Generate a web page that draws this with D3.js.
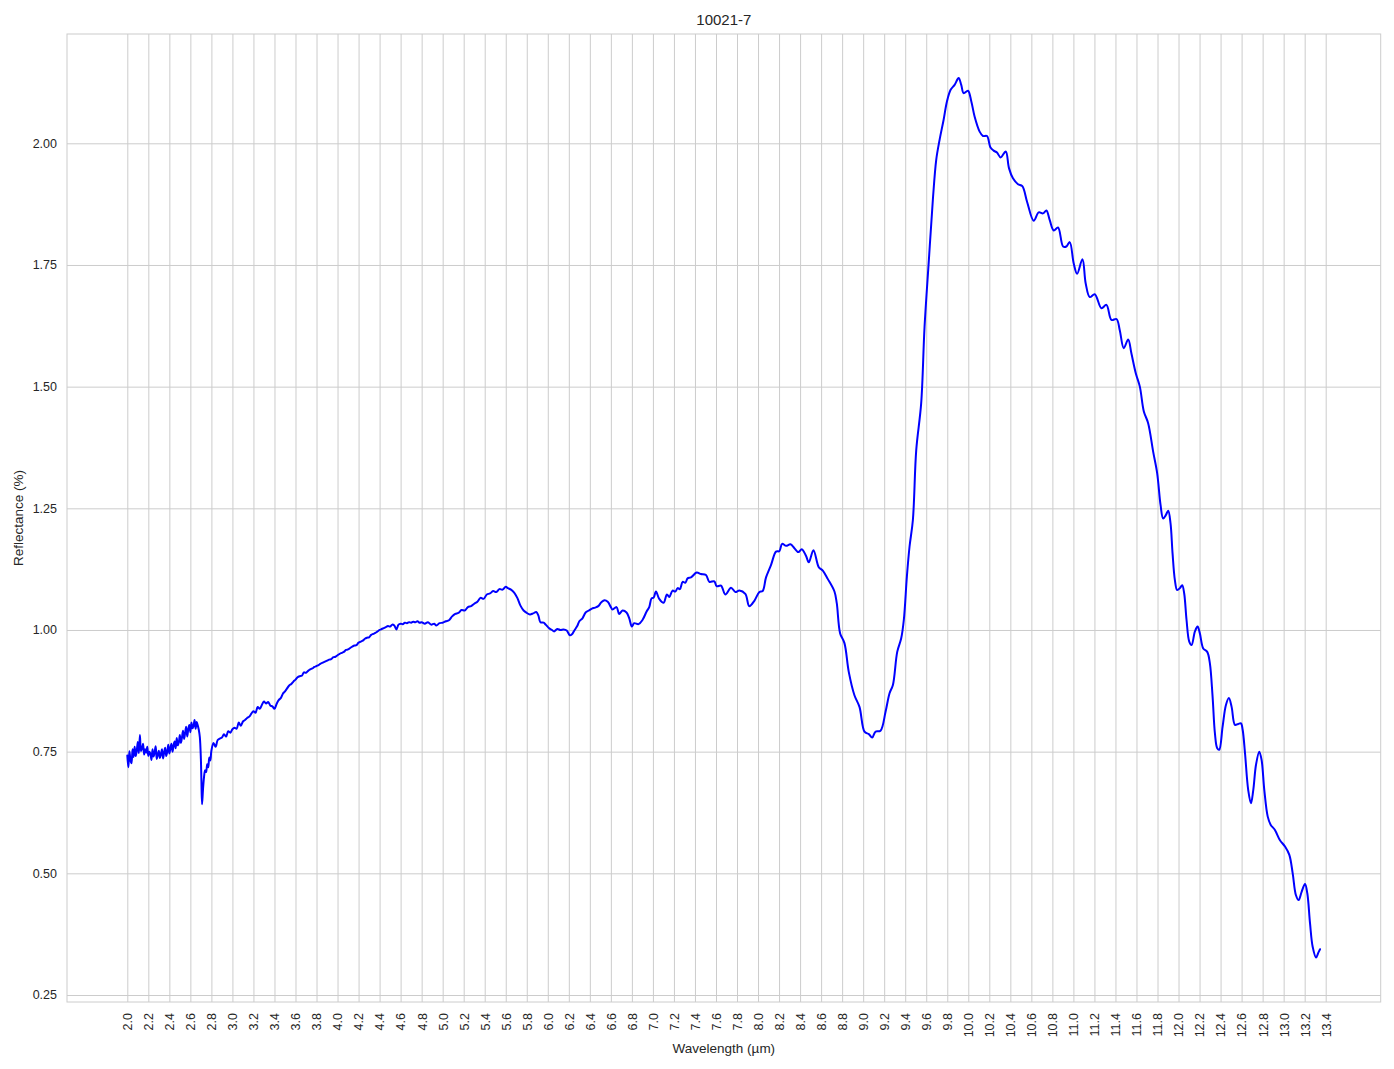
<!DOCTYPE html>
<html>
<head>
<meta charset="utf-8">
<script src="https://cdn.jsdelivr.net/npm/d3@7"></script>
<style>
  html, body { margin: 0; padding: 0; background: #ffffff; }
  svg { display: block; }
  text { font-family: "Liberation Sans", Arial, sans-serif; fill: #262626; }
</style>
</head>
<body>
<svg id="chart" width="1394" height="1069"></svg>
<script>
const title = "10021-7";
const xLabel = "Wavelength (µm)";
const yLabel = "Reflectance (%)";

const xTicks = [2.0,2.2,2.4,2.6,2.8,3.0,3.2,3.4,3.6,3.8,4.0,4.2,4.4,4.6,4.8,5.0,5.2,5.4,5.6,5.8,6.0,6.2,6.4,6.6,6.8,7.0,7.2,7.4,7.6,7.8,8.0,8.2,8.4,8.6,8.8,9.0,9.2,9.4,9.6,9.8,10.0,10.2,10.4,10.6,10.8,11.0,11.2,11.4,11.6,11.8,12.0,12.2,12.4,12.6,12.8,13.0,13.2,13.4];
const yTicks = [0.25,0.50,0.75,1.00,1.25,1.50,1.75,2.00];

// wavelength (µm)
const wavelength = [
2.00,2.01,2.02,2.03,2.04,2.05,2.06,2.07,2.08,2.09,
2.10,2.11,2.12,2.13,2.14,2.15,2.16,2.17,2.18,2.19,
2.20,2.21,2.22,2.23,2.24,2.25,2.26,2.27,2.28,2.29,
2.30,2.31,2.32,2.33,2.34,2.35,2.36,2.37,2.38,2.39,
2.40,2.41,2.42,2.43,2.44,2.45,2.46,2.47,2.48,2.49,
2.50,2.51,2.52,2.53,2.54,2.55,2.56,2.57,2.58,2.59,
2.60,2.61,2.62,2.63,2.64,2.65,2.66,2.67,2.68,2.69,
2.70,2.705,2.711,2.72,2.73,2.74,2.75,2.76,2.77,2.78,2.79,
2.80,2.82,2.84,2.86,2.88,2.90,2.92,2.94,2.96,2.98,
3.00,3.02,3.04,3.06,3.08,3.10,3.12,3.14,3.16,3.18,
3.20,3.22,3.24,3.26,3.28,3.30,3.32,3.34,3.36,3.38,
3.40,3.42,3.44,3.46,3.48,3.50,3.52,3.54,3.56,3.58,
3.60,3.62,3.64,3.66,3.68,3.70,3.72,3.74,3.76,3.78,
3.80,3.82,3.84,3.86,3.88,3.90,3.92,3.94,3.96,3.98,
4.00,4.02,4.04,4.06,4.08,4.10,4.12,4.14,4.16,4.18,
4.20,4.22,4.24,4.26,4.28,4.30,4.32,4.34,4.36,4.38,
4.40,4.42,4.44,4.46,4.48,4.50,4.52,4.54,4.56,4.58,
4.60,4.62,4.64,4.66,4.68,4.70,4.72,4.74,4.76,4.78,
4.80,4.83,4.86,4.89,4.92,4.94,4.97,5.00,5.03,5.06,
5.09,5.12,5.15,5.18,5.21,5.24,5.27,5.30,5.33,5.36,
5.39,5.42,5.45,5.48,5.51,5.54,5.57,5.60,5.62,5.65,
5.68,5.71,5.74,5.77,5.80,5.83,5.86,5.89,5.91,5.93,
5.96,5.98,6.01,6.04,6.06,6.09,6.12,6.15,6.18,6.21,
6.23,6.25,6.28,6.30,6.33,6.36,6.39,6.42,6.45,6.48,
6.51,6.54,6.57,6.60,6.616,6.654,6.679,6.711,6.749,6.775,
6.80,6.822,6.863,6.902,6.940,6.965,6.987,7.006,7.029,7.060,
7.102,7.133,7.156,7.187,7.213,7.235,7.257,7.283,7.308,7.330,
7.362,7.416,7.457,7.505,7.537,7.584,7.606,7.648,7.689,7.743,
7.784,7.822,7.879,7.917,7.965,8.013,8.044,8.076,8.124,8.171,
8.203,8.229,8.267,8.308,8.346,8.384,8.416,8.457,8.483,8.527,
8.578,8.616,8.663,8.727,8.749,8.781,8.822,8.863,8.917,8.965,
9.013,9.054,9.086,9.117,9.165,9.213,9.251,9.283,9.324,9.362,
9.387,9.416,9.441,9.473,9.505,9.552,9.584,9.625,9.663,9.695,
9.727,9.765,9.797,9.832,9.870,9.908,9.933,9.956,9.997,10.029,
10.060,10.108,10.140,10.178,10.210,10.241,10.273,10.308,10.356,10.387,
10.425,10.473,10.514,10.559,10.622,10.670,10.711,10.743,10.775,10.813,
10.854,10.902,10.933,10.965,11.003,11.035,11.086,11.117,11.156,11.203,
11.267,11.314,11.362,11.410,11.441,11.479,11.521,11.552,11.594,11.632,
11.670,11.711,11.759,11.797,11.829,11.854,11.879,11.902,11.924,11.943,
11.965,11.987,12.013,12.035,12.054,12.076,12.102,12.124,12.156,12.181,
12.203,12.235,12.273,12.298,12.324,12.346,12.368,12.387,12.419,12.451,
12.479,12.505,12.537,12.568,12.594,12.610,12.632,12.663,12.689,12.711,
12.737,12.768,12.790,12.816,12.848,12.876,12.917,12.965,13.013,13.054,
13.086,13.117,13.143,13.171,13.203,13.225,13.251,13.276,13.308,13.330,
13.346
];

// reflectance (%)
const reflectance = [
0.742,0.718,0.751,0.733,0.726,0.755,0.739,0.760,0.741,0.752,
0.770,0.747,0.784,0.751,0.757,0.766,0.744,0.755,0.748,0.760,
0.741,0.750,0.746,0.733,0.755,0.740,0.749,0.761,0.735,0.744,
0.752,0.737,0.745,0.755,0.736,0.748,0.758,0.741,0.750,0.764,
0.746,0.757,0.766,0.750,0.762,0.771,0.757,0.778,0.763,0.769,
0.784,0.768,0.779,0.793,0.776,0.788,0.801,0.781,0.796,0.805,
0.790,0.810,0.798,0.803,0.815,0.797,0.811,0.804,0.795,0.780,
0.735,0.690,0.642,0.672,0.698,0.712,0.708,0.724,0.718,0.738,0.732,
0.752,0.768,0.760,0.774,0.777,0.779,0.786,0.781,0.792,0.789,
0.796,0.799,0.797,0.810,0.803,0.812,0.815,0.819,0.822,0.828,
0.833,0.830,0.842,0.838,0.846,0.853,0.849,0.852,0.845,0.843,
0.838,0.848,0.856,0.860,0.869,0.874,0.880,0.886,0.889,0.894,
0.898,0.903,0.905,0.906,0.913,0.912,0.916,0.919,0.921,0.924,
0.926,0.928,0.931,0.933,0.935,0.937,0.939,0.940,0.944,0.945,
0.948,0.951,0.953,0.955,0.959,0.960,0.963,0.966,0.968,0.969,
0.974,0.976,0.978,0.982,0.984,0.985,0.990,0.992,0.994,0.997,
1.000,1.002,1.004,1.006,1.008,1.007,1.011,1.009,1.001,1.011,
1.013,1.012,1.015,1.014,1.016,1.015,1.017,1.016,1.018,1.015,
1.016,1.013,1.016,1.011,1.013,1.009,1.014,1.015,1.018,1.020,
1.028,1.033,1.035,1.041,1.040,1.047,1.049,1.054,1.058,1.066,
1.064,1.073,1.075,1.080,1.078,1.084,1.083,1.089,1.086,1.083,
1.077,1.066,1.050,1.040,1.035,1.032,1.034,1.037,1.030,1.016,
1.015,1.011,1.004,1.000,0.997,1.002,1.000,1.001,0.999,0.989,
0.991,0.998,1.008,1.018,1.024,1.036,1.040,1.044,1.046,1.049,
1.057,1.061,1.058,1.047,1.042,1.047,1.033,1.040,1.036,1.024,
1.007,1.014,1.012,1.021,1.038,1.047,1.065,1.066,1.079,1.064,
1.056,1.073,1.068,1.081,1.079,1.086,1.084,1.099,1.097,1.106,
1.108,1.118,1.115,1.113,1.099,1.100,1.090,1.091,1.073,1.087,
1.078,1.081,1.074,1.049,1.060,1.078,1.080,1.108,1.134,1.161,
1.162,1.177,1.173,1.176,1.168,1.160,1.166,1.152,1.139,1.164,
1.129,1.122,1.105,1.079,1.055,0.993,0.973,0.914,0.866,0.842,
0.791,0.786,0.779,0.791,0.793,0.832,0.870,0.887,0.955,0.983,
1.021,1.110,1.171,1.226,1.370,1.466,1.623,1.760,1.884,1.966,
2.007,2.048,2.086,2.110,2.120,2.134,2.120,2.103,2.108,2.086,
2.055,2.024,2.015,2.015,1.992,1.985,1.981,1.971,1.983,1.949,
1.928,1.916,1.912,1.880,1.841,1.858,1.856,1.862,1.842,1.821,
1.827,1.788,1.788,1.797,1.753,1.732,1.762,1.712,1.684,1.690,
1.661,1.668,1.637,1.639,1.616,1.579,1.597,1.568,1.527,1.500,
1.449,1.425,1.366,1.322,1.257,1.229,1.236,1.245,1.219,1.158,
1.103,1.082,1.086,1.092,1.075,1.021,0.976,0.969,0.997,1.007,
0.993,0.962,0.955,0.932,0.863,0.788,0.757,0.754,0.801,0.846,
0.860,0.842,0.805,0.807,0.808,0.795,0.748,0.671,0.644,0.671,
0.723,0.750,0.733,0.671,0.617,0.600,0.589,0.568,0.555,0.538,
0.500,0.455,0.445,0.462,0.478,0.459,0.397,0.349,0.327,0.337,
0.344
];

const plot = { left: 67, top: 34, right: 1380.7, bottom: 1002 };

const svg = d3.select("#chart");

const x = d3.scaleLinear().domain([1.4264, 13.9232]).range([plot.left, plot.right]);
const y = d3.scaleLinear().domain([0.2356, 2.2246]).range([plot.bottom, plot.top]);

const gridColor = "#cccccc";

// Grid lines via axes
svg.append("g")
  .attr("transform", `translate(0,${plot.bottom})`)
  .call(d3.axisBottom(x).tickValues(xTicks).tickSize(-(plot.bottom - plot.top)).tickFormat(""))
  .call(g => g.select(".domain").remove())
  .call(g => g.selectAll("line").attr("stroke", gridColor).attr("stroke-width", 1));

svg.append("g")
  .attr("transform", `translate(${plot.left},0)`)
  .call(d3.axisLeft(y).tickValues(yTicks).tickSize(-(plot.right - plot.left)).tickFormat(""))
  .call(g => g.select(".domain").remove())
  .call(g => g.selectAll("line").attr("stroke", gridColor).attr("stroke-width", 1));

// Frame
svg.append("rect")
  .attr("x", plot.left).attr("y", plot.top)
  .attr("width", plot.right - plot.left).attr("height", plot.bottom - plot.top)
  .attr("fill", "none").attr("stroke", gridColor).attr("stroke-width", 1);

// Tick labels
const xAxis = svg.append("g")
  .attr("transform", `translate(0,${plot.bottom})`)
  .call(d3.axisBottom(x).tickValues(xTicks).tickSize(0).tickPadding(0).tickFormat(d3.format(".1f")));
xAxis.select(".domain").remove();
xAxis.selectAll("text")
  .attr("transform", "translate(0,11) rotate(-90)")
  .attr("x", 0).attr("y", 0).attr("dy", "0.35em")
  .attr("text-anchor", "end")
  .style("font-size", "12.5px")
  .style("font-family", "'Liberation Sans', Arial, sans-serif")
  .style("fill", "#262626");

const yAxis = svg.append("g")
  .attr("transform", `translate(${plot.left},0)`)
  .call(d3.axisLeft(y).tickValues(yTicks).tickSize(0).tickPadding(10).tickFormat(d3.format(".2f")));
yAxis.select(".domain").remove();
yAxis.selectAll("text")
  .style("font-size", "12.5px")
  .style("font-family", "'Liberation Sans', Arial, sans-serif")
  .style("fill", "#262626");

// Line
const pts = wavelength.map((w, i) => [w, reflectance[i]]);
const line = d3.line()
  .x(d => x(d[0]))
  .y(d => y(d[1]))
  .curve(d3.curveCatmullRom.alpha(0.5));

svg.append("path")
  .datum(pts)
  .attr("d", line)
  .attr("fill", "none")
  .attr("stroke", "#0000ff")
  .attr("stroke-width", 2)
  .attr("stroke-linejoin", "round")
  .attr("stroke-linecap", "round");

// Title & axis labels
svg.append("text")
  .attr("x", (plot.left + plot.right) / 2).attr("y", 25)
  .attr("text-anchor", "middle")
  .style("font-size", "15px")
  .text(title);

svg.append("text")
  .attr("x", (plot.left + plot.right) / 2).attr("y", 1053)
  .attr("text-anchor", "middle")
  .style("font-size", "13.5px")
  .text(xLabel);

svg.append("text")
  .attr("transform", `translate(23,${(plot.top + plot.bottom) / 2}) rotate(-90)`)
  .attr("text-anchor", "middle")
  .style("font-size", "13.5px")
  .text(yLabel);
</script>
</body>
</html>
